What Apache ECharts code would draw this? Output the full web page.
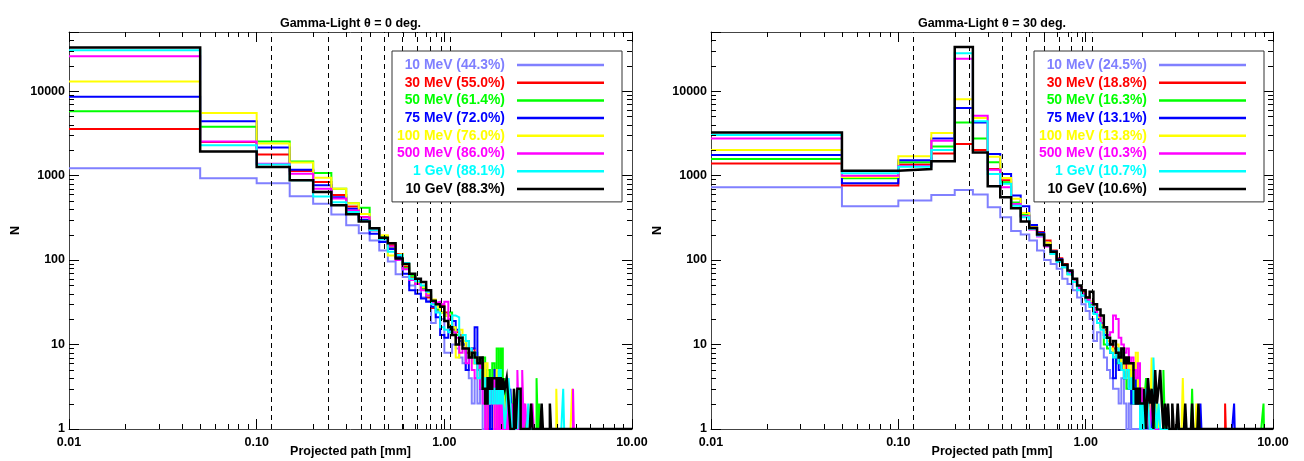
<!DOCTYPE html>
<html>
<head>
<meta charset="utf-8">
<script src="https://cdn.jsdelivr.net/npm/echarts@6/dist/echarts.min.js"></script>
<style>
  html, body { margin: 0; padding: 0; background: #fff; }
  #chart { width: 1304px; height: 461px; }
</style>
</head>
<body>
<div id="chart"></div>
<script>
// histogram bins are 0.05 mm wide, first bin starts at 0 (drawn from the axis minimum)
const binWidth = 0.05;
const energies = ['10 MeV', '30 MeV', '50 MeV', '75 MeV', '100 MeV', '500 MeV', '1 GeV', '10 GeV'];
const colors = ['#8080ff', '#ff0000', '#00ff00', '#0000ff', '#ffff00', '#ff00ff', '#00ffff', '#000000'];
const frac0 = ['44.3', '55.0', '61.4', '72.0', '76.0', '86.0', '88.1', '88.3'];
const frac30 = ['24.5', '18.8', '16.3', '13.1', '13.8', '10.3', '10.7', '10.6'];
const dashX = [0.12, 0.24, 0.36, 0.48, 0.60, 0.72, 0.84, 0.96, 1.08];

// theta = 0 deg, counts per bin
const t0_10MeV = [1220, 930, 810, 570, 465, 345, 258, 208, 170, 130, 96, 68, 63, 50, 44, 36, 33, 18, 25, 20, 8, 8, 10, 9, 7, 6, 5, 4, 2, 4, 2, 3, 1, 2, 0, 1, 0, 0, 1];
const t0_30MeV = [3560, 2490, 1770, 1130, 840, 590, 430, 322, 225, 185, 150, 118, 83, 62, 52, 45, 36, 27, 30, 29, 24, 22, 15, 14, 13, 10, 8, 7, 9, 6, 5, 4, 6, 3, 0, 3, 2, 4, 1, 2, 0, 2, 1, 0, 1, 0, 2, 0, 0, 1];
const t0_50MeV = [5750, 3790, 2530, 1470, 1070, 700, 470, 415, 240, 190, 140, 110, 80, 65, 54, 45, 38, 31, 26, 24, 22, 24, 16, 13, 12, 10, 11, 8, 7, 8, 6, 5, 7, 4, 5, 3, 6, 2, 9, 3, 9, 2, 4, 1, 3, 2, 0, 3, 1, 2, 0, 1, 0, 2, 0, 0, 1];
const t0_75MeV = [8570, 4390, 2140, 1170, 770, 555, 404, 300, 205, 163, 135, 108, 69, 44, 40, 35, 32, 28, 21, 13, 12, 15, 19, 15, 11, 10, 5, 8, 9, 16, 5, 3, 6, 2, 4, 0, 3, 5, 2, 4, 1, 3, 2, 0, 2, 3, 0, 1, 0, 2, 0, 1, 0, 0, 1];
const t0_100MeV = [13000, 5500, 2400, 1430, 940, 700, 470, 350, 235, 196, 113, 118, 88, 60, 55, 48, 40, 34, 28, 24, 22, 17, 16, 7, 15, 11, 9, 8, 6, 7, 4, 5, 3, 6, 2, 4, 3, 1, 5, 2, 0, 3, 2, 1, 0, 2, 1, 0, 2, 0, 1, 0, 0, 1];
const t0_500MeV = [25900, 2530, 1380, 1050, 700, 535, 386, 320, 225, 175, 145, 100, 78, 58, 52, 44, 38, 31, 32, 30, 32, 20, 14, 12, 8, 9, 6, 7, 5, 4, 6, 3, 2, 0, 3, 2, 4, 1, 3, 0, 2, 1, 0, 2, 0, 1, 2, 0, 1, 5, 0, 1, 5, 0, 2, 0, 0, 1, 0, 2];
const t0_1GeV = [30500, 2280, 1350, 880, 565, 484, 370, 290, 225, 175, 125, 115, 92, 60, 56, 50, 42, 30, 24, 16, 15, 14, 22, 21, 12, 13, 11, 9, 8, 6, 4, 5, 3, 4, 2, 3, 2, 3, 2, 5, 2, 3, 1, 2, 4, 2, 1, 0, 2, 0, 3, 1, 0, 1, 0, 0, 2, 0, 0, 1];
const t0_10GeV = [32800, 1930, 1260, 880, 640, 445, 348, 285, 238, 183, 158, 104, 90, 69, 60, 55, 44, 33, 30, 28, 19, 16, 13, 10, 12, 9, 9, 7, 8, 7, 6, 7, 3, 2, 4, 3, 4, 4, 3, 4, 3, 4, 3, 4, 2, 0, 1, 3, 0, 3, 3];
// isolated far-tail bins: [energy, bin start (mm), count]
const t0_spikes = [['50 MeV', 3.1, 4], ['50 MeV', 3.2, 2], ['100 MeV', 3.95, 3], ['100 MeV', 4.8, 3],
  ['500 MeV', 4.85, 3], ['1 GeV', 4.3, 3], ['10 GeV', 2.9, 2], ['10 GeV', 3.3, 2], ['10 GeV', 3.65, 2]];

// theta = 30 deg, counts per bin
const t30_10MeV = [726, 433, 506, 590, 676, 595, 422, 321, 220, 200, 170, 130, 100, 90, 79, 60, 52, 44, 36, 30, 25, 20, 11, 14, 9, 7, 5, 4, 3, 3, 2, 4, 2, 1, 2, 0, 1];
const t30_30MeV = [1393, 760, 1350, 1828, 2360, 2000, 1197, 880, 470, 330, 250, 215, 170, 130, 105, 90, 72, 58, 48, 42, 36, 32, 27, 22, 18, 15, 12, 10, 9, 7, 6, 5, 6, 4, 3, 4, 2, 3, 2, 1, 3, 2, 0, 2, 1, 0, 2, 1, 0, 1];
const t30_50MeV = [1570, 926, 1432, 2200, 4245, 2750, 1432, 831, 480, 340, 235, 195, 150, 118, 98, 82, 68, 56, 48, 40, 34, 30, 24, 20, 16, 10, 9, 8, 7, 6, 8, 5, 4, 3, 5, 2, 3, 4, 2, 1, 3, 2, 4, 1, 2, 0, 1, 2, 0, 1, 0, 1, 5];
const t30_75MeV = [1750, 809, 1520, 2750, 6280, 4245, 1800, 1045, 579, 433, 260, 210, 160, 128, 102, 86, 72, 56, 46, 38, 34, 28, 24, 20, 17, 13, 10, 8, 4, 9, 5, 6, 4, 5, 3, 2, 4, 2, 3, 1, 2, 0, 3, 1, 2, 0, 1];
const t30_100MeV = [2005, 960, 1686, 3185, 8020, 4785, 1671, 937, 530, 360, 245, 200, 160, 125, 100, 85, 70, 57, 47, 40, 35, 32, 26, 21, 17, 14, 11, 9, 8, 10, 7, 6, 5, 4, 6, 3, 4, 8, 3, 1, 3, 2, 1, 2, 0, 7, 1, 0, 2];
const t30_500MeV = [2750, 997, 1300, 2583, 24200, 5094, 1170, 726, 460, 330, 230, 190, 145, 120, 97, 85, 70, 56, 47, 40, 34, 31, 26, 22, 18, 16, 13, 14, 22, 20, 12, 10, 8, 9, 6, 7, 5, 4, 6, 3, 2, 3, 1, 2, 0, 2, 0, 1];
const t30_1GeV = [3015, 1062, 1274, 2005, 28000, 4400, 1045, 800, 440, 320, 235, 195, 150, 118, 95, 82, 68, 55, 44, 38, 32, 28, 23, 18, 15, 12, 10, 8, 7, 9, 6, 5, 4, 5, 3, 4, 2, 3, 2, 1, 2, 0, 3, 2, 1, 0, 7, 2, 0, 2, 1];
const t30_10GeV = [3236, 1140, 1197, 1472, 33270, 1880, 746, 553, 410, 286, 240, 200, 150, 125, 100, 88, 75, 60, 50, 44, 36, 42, 30, 26, 22, 16, 12, 10, 11, 8, 7, 9, 6, 7, 6, 6, 3, 2, 3, 2, 2, 3, 1, 4, 2, 3, 1, 5, 2, 3, 5, 2, 0, 2, 0, 2, 1, 0, 2];
const t30_spikes = [['30 MeV', 5.55, 2], ['50 MeV', 3.7, 3], ['50 MeV', 8.9, 2], ['75 MeV', 4.1, 2], ['75 MeV', 6.2, 2],
  ['100 MeV', 3.3, 4], ['100 MeV', 3.9, 2], ['10 GeV', 3.1, 2], ['10 GeV', 3.4, 2], ['10 GeV', 3.7, 2], ['10 GeV', 4.0, 2]];

const panels = [
  { title: 'Gamma-Light \u03b8 = 0 deg.', frac: frac0, spikes: t0_spikes,
    counts: [t0_10MeV, t0_30MeV, t0_50MeV, t0_75MeV, t0_100MeV, t0_500MeV, t0_1GeV, t0_10GeV] },
  { title: 'Gamma-Light \u03b8 = 30 deg.', frac: frac30, spikes: t30_spikes,
    counts: [t30_10MeV, t30_30MeV, t30_50MeV, t30_75MeV, t30_100MeV, t30_500MeV, t30_1GeV, t30_10GeV] }
];

const font = "'Liberation Sans', Arial, Helvetica, sans-serif";
const txt = { color: '#000', fontFamily: font, fontSize: 12.5, fontWeight: 'bold' };
const frameLine = { color: '#444', width: 1 };
const tickLine = { color: '#000', width: 1 };

// zero counts sit on the bottom of the log axis
function histPoints(counts, spikes, energy) {
  const c = counts.slice();
  spikes.filter(s => s[0] === energy).forEach(s => {
    const i = Math.round(s[1] / binWidth);
    while (c.length <= i) c.push(0);
    c[i] = s[2];
  });
  const pts = c.map((v, i) => [i === 0 ? 0.01 : i * binWidth, Math.max(v, 1)]);
  pts.push([c.length * binWidth, 1]);
  pts.push([10, 1]);
  return pts;
}

// minor ticks at 2..9 of each decade
const minorX = [];
[0.01, 0.1, 1].forEach(d => { for (let m = 2; m <= 9; m++) minorX.push(m * d); });
const minorY = [];
[1, 10, 100, 1000, 10000].forEach(d => { for (let m = 2; m <= 9; m++) if (m * d < 50000) minorY.push(m * d); });

function isPow10(v) {
  const l = Math.log10(v);
  return Math.abs(l - Math.round(l)) < 1e-6;
}

const grids = [], xAxes = [], yAxes = [], series = [], legends = [];
const gridLefts = [69, 711];
const gridWidths = [563, 562];

panels.forEach((p, g) => {
  grids.push({ left: gridLefts[g], top: 32, width: gridWidths[g], height: 397,
    containLabel: false, outerBoundsMode: 'none' });
  xAxes.push({
    type: 'log', gridIndex: g, min: 0.01, max: 10, position: 'bottom',
    axisLine: { onZero: false, lineStyle: frameLine },
    axisTick: { inside: true, length: 10, lineStyle: tickLine },
    axisLabel: Object.assign({ margin: 7, formatter: v => v.toFixed(2) }, txt),
    splitLine: { show: false },
    name: 'Projected path [mm]', nameLocation: 'middle', nameGap: 16, nameMoveOverlap: false,
    nameTextStyle: txt
  });
  xAxes.push({
    type: 'log', gridIndex: g, min: 0.01, max: 10, position: 'top',
    axisLine: { onZero: false, lineStyle: frameLine },
    axisTick: { inside: true, length: 10, lineStyle: tickLine },
    axisLabel: { show: false }, splitLine: { show: false },
    name: p.title, nameLocation: 'middle', nameGap: 2, nameMoveOverlap: false, nameTextStyle: txt
  });
  yAxes.push({
    type: 'log', gridIndex: g, min: 1, max: 50000, position: 'left',
    axisLine: { onZero: false, lineStyle: frameLine },
    axisTick: { inside: true, length: 10, lineStyle: tickLine },
    axisLabel: Object.assign({ margin: 4, formatter: v => isPow10(v) ? String(Math.round(v)) : '' }, txt),
    splitLine: { show: false },
    name: 'N', nameLocation: 'middle', nameGap: 47, nameMoveOverlap: false, nameTextStyle: txt
  });
  yAxes.push({
    type: 'log', gridIndex: g, min: 1, max: 50000, position: 'right',
    axisLine: { onZero: false, lineStyle: frameLine },
    axisTick: { inside: true, length: 10, lineStyle: tickLine },
    axisLabel: { show: false }, splitLine: { show: false }
  });

  const names = energies.map((e, k) => e + ' (' + p.frac[k] + '%)');
  energies.forEach((e, k) => {
    const s = {
      name: names[k], type: 'line', step: 'end',
      xAxisIndex: 2 * g, yAxisIndex: 2 * g,
      symbol: 'none', color: colors[k], animation: false, silent: true,
      lineStyle: { width: k === 7 ? 2.5 : 2, color: colors[k], join: 'miter', cap: 'butt' },
      emphasis: { disabled: true },
      data: histPoints(p.counts[k], p.spikes, e)
    };
    if (k === 0) {
      s.markLine = {
        silent: true, symbol: ['none', 'none'], animation: false,
        label: { show: false },
        lineStyle: { type: [5, 4], color: '#000', width: 1 },
        emphasis: { disabled: true },
        data: dashX.map(x => ({ xAxis: x }))
      };
    }
    series.push(s);
  });

  series.push({
    type: 'custom', xAxisIndex: 2 * g, yAxisIndex: 2 * g,
    silent: true, clip: false, animation: false, z: 5,
    data: minorX.map(v => [v, 1, 0]).concat(minorY.map(v => [0.01, v, 1])),
    encode: { x: 0, y: 1 },
    renderItem: function (params, api) {
      const cs = params.coordSys;
      const pt = api.coord([api.value(0), api.value(1)]);
      const style = { stroke: '#000', lineWidth: 1 };
      if (api.value(2) === 0) {
        const x = Math.round(pt[0]) + 0.5;
        return { type: 'group', children: [
          { type: 'line', shape: { x1: x, y1: cs.y + cs.height, x2: x, y2: cs.y + cs.height - 5 }, style: style },
          { type: 'line', shape: { x1: x, y1: cs.y, x2: x, y2: cs.y + 5 }, style: style }
        ] };
      }
      const y = Math.round(pt[1]) + 0.5;
      return { type: 'group', children: [
        { type: 'line', shape: { x1: cs.x, y1: y, x2: cs.x + 5, y2: y }, style: style },
        { type: 'line', shape: { x1: cs.x + cs.width, y1: y, x2: cs.x + cs.width - 5, y2: y }, style: style }
      ] };
    }
  });

  legends.push({
    z: 50,
    data: names.map((n, k) => ({ name: n, textStyle: { color: colors[k] } })),
    orient: 'vertical', left: gridLefts[g] + 323, top: 51,
    align: 'right', icon: 'rect', itemWidth: 87, itemHeight: 2.5, itemGap: 3.7,
    padding: [7, 18, 6, 3], borderColor: '#333', borderWidth: 1, backgroundColor: '#fff',
    selectedMode: false, itemStyle: { borderWidth: 0 },
    textStyle: { fontFamily: font, fontSize: 13.9, fontWeight: 'bold',
      rich: { a: { width: 110, align: 'right', padding: [0, 7, 0, 0], height: 14, lineHeight: 14,
        fontFamily: font, fontSize: 13.9, fontWeight: 'bold' } } },
    formatter: n => '{a|' + n + '}'
  });
});

const chart = echarts.init(document.getElementById('chart'));
chart.setOption({
  animation: false,
  backgroundColor: '#fff',
  grid: grids,
  xAxis: xAxes,
  yAxis: yAxes,
  legend: legends,
  series: series
});
</script>
</body>
</html>
